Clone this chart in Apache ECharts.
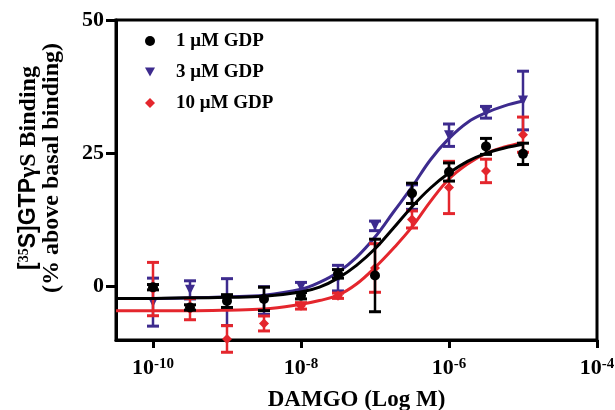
<!DOCTYPE html>
<html>
<head>
<meta charset="utf-8">
<script src="https://cdn.jsdelivr.net/npm/echarts@6/dist/echarts.min.js"></script>
<style>html,body{margin:0;padding:0;background:#fff}#c{width:615px;height:410px}</style>
</head>
<body>
<div id="c"></div>
<script>
// ---- data ----
const logDose = [-10, -9.5, -9, -8.5, -8, -7.5, -7, -6.5, -6, -5.5, -5];

const gdp1Mean = [-0.1, -3.9, -2.7, -2.3, -1.7, 2.4, 2.1, 17.5, 21.5, 26.3, 24.9];
const gdp1Sem  = [0.5, 0.5, 1.2, 2.2, 0.6, 0.8, 6.8, 1.9, 1.7, 1.5, 2.0];

const gdp3Mean = [-2.9, -0.6, -2.9, -2.6, 0.0, 1.6, 11.4, 16.8, 28.4, 32.7, 34.9];
const gdp3Sem  = [4.5, 1.7, 4.4, 2.6, 0.8, 2.4, 0.9, 2.3, 2.1, 1.1, 5.5];

const gdp10Mean = [-0.45, -4.2, -9.8, -6.9, -3.6, -1.7, 3.5, 12.6, 18.6, 21.7, 28.5];
const gdp10Sem  = [5.0, 2.0, 2.5, 1.4, 0.6, 0.5, 4.55, 1.6, 4.9, 2.2, 3.3];

// fitted curves
const curveX   = [-10.5, -10, -9.5, -9, -8.5, -8, -7.75, -7.5, -7.25, -7, -6.75, -6.5, -6.25, -6, -5.75, -5.5, -5.25, -5];
const fit1     = [-2.2, -2.2, -2.1, -2.0, -1.8, -1.0, -0.1, 1.6, 4.0, 7.1, 11.0, 15.0, 18.5, 21.3, 23.5, 25.0, 26.0, 26.7];
const fit3     = [-2.2, -2.2, -2.1, -1.9, -1.6, -0.5, 0.8, 2.7, 5.5, 9.3, 14.0, 18.7, 23.8, 27.8, 30.8, 32.6, 33.9, 34.8];
const fit10    = [-4.5, -4.5, -4.5, -4.4, -4.2, -3.3, -2.6, -1.6, 0.5, 3.6, 7.2, 11.2, 16.0, 20.2, 23.0, 25.0, 26.2, 27.0];

const xTicks = [-10, -8, -6, -4];
const yTicks = [0, 25, 50];
const seriesNames = ['1 μM GDP', '3 μM GDP', '10 μM GDP'];

// ---- styling ----
const C1 = '#000000', C3 = '#3d2b8e', C10 = '#e4262d';
const SERIF = '"Liberation Serif","Times New Roman",serif';
const SANS = '"Liberation Sans",Arial,sans-serif';
const TRI_DOWN = 'path://M0,0 L10,0 L5,9 Z';

function pts(means) { return logDose.map((x, i) => [x, means[i]]); }
function bars(means, sems) { return logDose.map((x, i) => [x, means[i] - sems[i], means[i] + sems[i]]); }
function curve(vals) { return curveX.map((x, i) => [x, vals[i]]); }

function errRender(color) {
  return function (params, api) {
    const x = api.value(0);
    const lo = api.coord([x, api.value(1)]);
    const hi = api.coord([x, api.value(2)]);
    const w = 6;
    return {
      type: 'group',
      children: [
        { type: 'line', shape: { x1: lo[0], y1: lo[1], x2: hi[0], y2: hi[1] }, style: { stroke: color, lineWidth: 2.5 } },
        { type: 'line', shape: { x1: hi[0] - w, y1: hi[1], x2: hi[0] + w, y2: hi[1] }, style: { stroke: color, lineWidth: 3 } },
        { type: 'line', shape: { x1: lo[0] - w, y1: lo[1], x2: lo[0] + w, y2: lo[1] }, style: { stroke: color, lineWidth: 3 } }
      ]
    };
  };
}

function group(name, color, symbol, size, means, sems, fit, z) {
  return [
    { type: 'custom', name: name + ' err', renderItem: errRender(color), data: bars(means, sems), z: z, clip: false, silent: true },
    { type: 'line', name: name + ' fit', data: curve(fit), smooth: 0.4, showSymbol: false, symbol: 'none',
      lineStyle: { color: color, width: 3 }, z: z + 1, silent: true },
    { type: 'scatter', name: name, data: pts(means), symbol: symbol, symbolSize: size,
      itemStyle: { color: color, opacity: 1 }, z: z + 2, silent: true }
  ];
}

const chart = echarts.init(document.getElementById('c'), null, { renderer: 'canvas' });
chart.setOption({
  animation: false,
  backgroundColor: '#fff',
  grid: { left: 116, right: 18, top: 20, bottom: 70, show: true, borderColor: '#000', borderWidth: 3,
          backgroundColor: 'transparent', containLabel: false, outerBoundsMode: 'none' },
  legend: {
    data: seriesNames,
    orient: 'vertical',
    left: 140,
    top: 26,
    itemWidth: 10,
    itemHeight: 10,
    itemGap: 11,
    textStyle: { fontFamily: SERIF, fontWeight: 'bold', fontSize: 19, color: '#000', lineHeight: 20, padding: [0, 0, 0, 16] },
    selectedMode: false
  },
  xAxis: {
    type: 'value', min: -10.5, max: -4,
    splitLine: { show: false },
    axisLine: { onZero: false, lineStyle: { color: '#000', width: 3 } },
    axisTick: { customValues: xTicks, length: 8, lineStyle: { color: '#000', width: 3 } },
    axisLabel: {
      customValues: xTicks, margin: 17,
      formatter: function (v) { return '{a|10}{b|' + v + '}'; },
      rich: {
        a: { fontFamily: SERIF, fontWeight: 'bold', fontSize: 22, color: '#000' },
        b: { fontFamily: SERIF, fontWeight: 'bold', fontSize: 15, color: '#000', verticalAlign: 'top' }
      }
    },
    name: 'DAMGO (Log M)', nameLocation: 'middle', nameGap: 49,
    nameTextStyle: { fontFamily: SERIF, fontWeight: 'bold', fontSize: 23, color: '#000' }
  },
  yAxis: {
    type: 'value', min: -10, max: 50,
    splitLine: { show: false },
    axisLine: { onZero: false, lineStyle: { color: '#000', width: 3 } },
    axisTick: { customValues: yTicks, length: 10, lineStyle: { color: '#000', width: 3 } },
    axisLabel: { customValues: yTicks, margin: 12, fontFamily: SERIF, fontWeight: 'bold', fontSize: 22, color: '#000' }
  },
  graphic: [{
    type: 'text', x: 40, y: 168, rotation: Math.PI / 2,
    style: {
      text: '{s|[}{sup|35}{s|S]GTP}{t|γS Binding}\n{t|(% above basal binding)}',
      align: 'center', verticalAlign: 'middle',
      rich: {
        s: { fontFamily: SANS, fontWeight: 'bold', fontSize: 23, fill: '#000', lineHeight: 23, align: 'center' },
        sup: { fontFamily: SERIF, fontWeight: 'bold', fontSize: 14, fill: '#000', lineHeight: 23, verticalAlign: 'top', align: 'center' },
        t: { fontFamily: SERIF, fontWeight: 'bold', fontSize: 24, fill: '#000', lineHeight: 23, align: 'center' }
      }
    }
  }],
  series: [].concat(
    group(seriesNames[1], C3, TRI_DOWN, 10, gdp3Mean, gdp3Sem, fit3, 2),
    group(seriesNames[2], C10, 'diamond', 10, gdp10Mean, gdp10Sem, fit10, 5),
    group(seriesNames[0], C1, 'circle', 10, gdp1Mean, gdp1Sem, fit1, 8)
  )
});
</script>
</body>
</html>
